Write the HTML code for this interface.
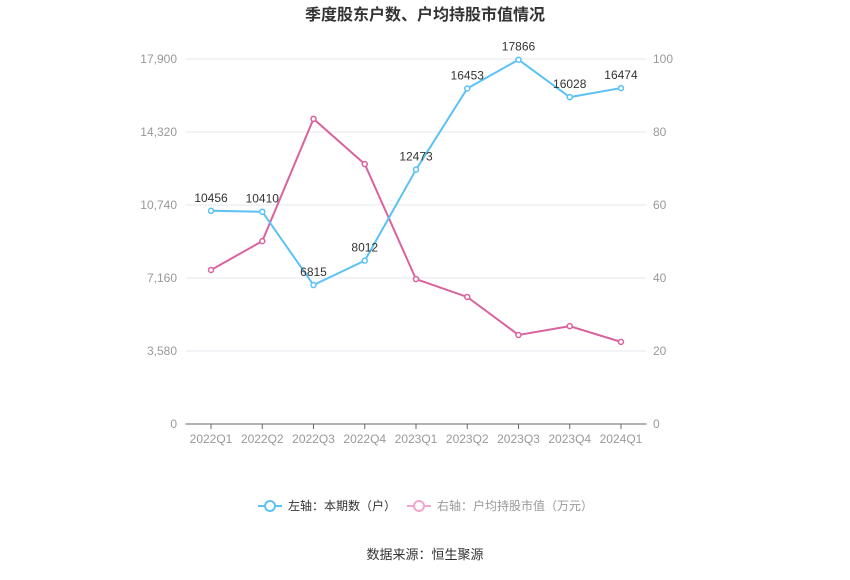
<!DOCTYPE html>
<html><head><meta charset="utf-8"><style>
body{margin:0;background:#fff;font-family:"Liberation Sans","Noto Sans CJK SC",sans-serif}
</style></head><body>
<svg id="c" width="850" height="575" xmlns="http://www.w3.org/2000/svg" font-family="Liberation Sans, Noto Sans CJK SC, sans-serif">
<text x="425" y="20" text-anchor="middle" font-size="16" font-weight="bold" fill="#333">季度股东户数、户均持股市值情况</text>
<g id="grid"></g><g id="axes"></g><g id="series"></g>
<g>
<g><line x1="258" y1="506" x2="282" y2="506" stroke="#5bc2f5" stroke-width="2"/><circle cx="270" cy="506" r="5" fill="#fff" stroke="#5bc2f5" stroke-width="2"/><text x="288" y="510" font-size="12" fill="#333">左轴：本期数（户）</text></g>
<g><line x1="407" y1="506" x2="431" y2="506" stroke="#f0a6d0" stroke-width="2"/><circle cx="419" cy="506" r="5" fill="#fff" stroke="#f0a6d0" stroke-width="2"/><text x="437" y="510" font-size="12" fill="#999">右轴：户均持股市值（万元）</text></g>
</g>
<text x="425" y="559" text-anchor="middle" font-size="13" fill="#333">数据来源：恒生聚源</text>
</svg>
<script>
const categories=["2022Q1","2022Q2","2022Q3","2022Q4","2023Q1","2023Q2","2023Q3","2023Q4","2024Q1"];
const holders=[10456,10410,6815,8012,12473,16453,17866,16028,16474];
const avgValue=[42.2,50.1,83.6,71.2,39.7,34.8,24.4,26.8,22.5];
const leftTicks=[0,3580,7160,10740,14320,17900];
const rightTicks=[0,20,40,60,80,100];
const NS="http://www.w3.org/2000/svg";
const X0=185.4,X1=646.6,Y0=424,Y1=59;
const step=(X1-X0)/categories.length;
const xs=i=>X0+step*(i+0.5);
const yl=v=>Y0-(v/17900)*(Y0-Y1);
const yr=v=>Y0-(v/100)*(Y0-Y1);
function mk(tag,attrs,parent,text){const e=document.createElementNS(NS,tag);for(const k in attrs)e.setAttribute(k,attrs[k]);if(text!=null)e.textContent=text;parent.appendChild(e);return e;}
const grid=document.getElementById('grid'),axes=document.getElementById('axes'),ser=document.getElementById('series');
leftTicks.forEach((t,i)=>{
 const y=yl(t);
 if(i>0){const g=mk('line',{x1:X0,x2:X1,y1:y,y2:y,stroke:'#e3e7ef','stroke-width':1},grid);
 
 }
 const l=mk('text',{x:177,y:y+4,'text-anchor':'end','font-size':12,fill:'#999'},axes,t.toLocaleString('en-US'));
 
 
});
rightTicks.forEach(t=>{
 const l=mk('text',{x:653,y:yr(t)+4,'font-size':12,fill:'#999'},axes,t);
 
 
});
const ax=mk('line',{x1:X0,x2:X1,y1:Y0,y2:Y0,stroke:'#666','stroke-width':1},axes);


categories.forEach((c,i)=>{
 mk('line',{x1:xs(i),x2:xs(i),y1:Y0,y2:Y0+5,stroke:'#666'},axes);
 const l=mk('text',{x:xs(i),y:443,'text-anchor':'middle','font-size':12,fill:'#999'},axes,c);
 
 
});
function line(vals,yf,color,name,labels){
 const p=mk('polyline',{points:vals.map((v,i)=>xs(i)+','+yf(v)).join(' '),fill:'none',stroke:color,'stroke-width':2},ser);
 
 
 vals.forEach((v,i)=>{
  const c=mk('circle',{cx:xs(i),cy:yf(v),r:2.5,fill:'#fff',stroke:color,'stroke-width':1.5},ser);
  
  
  if(labels){const t=mk('text',{x:xs(i),y:yf(v)-9,'text-anchor':'middle','font-size':12,fill:'#333'},ser,v);
  
  }
 });
}
line(avgValue,yr,'#d9629f','avg-value',false);
line(holders,yl,'#5bc2f5','holders',true);
</script>
</body></html>
